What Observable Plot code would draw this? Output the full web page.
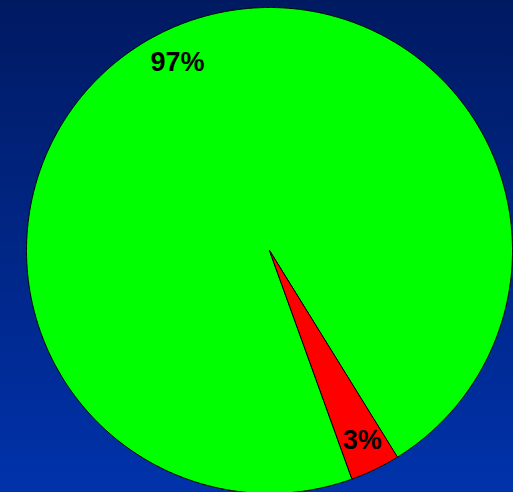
<!DOCTYPE html>
<html><head><meta charset="utf-8">
<script src="https://cdn.jsdelivr.net/npm/d3@7"></script>
<script src="https://cdn.jsdelivr.net/npm/@observablehq/plot@0.6"></script>
<style>
html,body{margin:0;padding:0;background:#001c66;}
svg{display:block;}
</style></head><body>
<div id="chart"></div>
<script>
const categories = ["Other", "Share"];
const values = [96.7, 3.3];
const labels = ["97%", "3%"];
const colors = ["#00ff00", "#ff0000"];

// pie geometry (angles clockwise from top, in degrees)
const startAngle = 160.1 * Math.PI / 180;
const pie = d3.pie().sort(null).value(d => d.value)
  .startAngle(startAngle).endAngle(startAngle + 2 * Math.PI);
const data = categories.map((c, i) => ({category: c, value: values[i], label: labels[i], color: colors[i]}));
const arcs = pie(data);

const pts = [];
for (const a of arcs) {
  pts.push({category: a.data.category, color: a.data.color, x: 0, y: 0});
  const n = Math.max(4, Math.ceil((a.endAngle - a.startAngle) / 0.005));
  for (let k = 0; k <= n; k++) {
    const t = a.startAngle + (a.endAngle - a.startAngle) * k / n;
    pts.push({category: a.data.category, color: a.data.color, x: Math.sin(t), y: Math.cos(t)});
  }
}
// label positions (fraction of radius, angle clockwise from top)
const labelPos = [
  {r: 0.861, deg: 333.9},
  {r: 0.870, deg: 154.0}
];
const labelData = arcs.map((a, i) => ({
  label: a.data.label,
  x: labelPos[i].r * Math.sin(labelPos[i].deg * Math.PI / 180),
  y: labelPos[i].r * Math.cos(labelPos[i].deg * Math.PI / 180)
}));

const cx = 269, cy = 250, R = 243;
const chart = Plot.plot({
  width: 513, height: 492,
  margin: 0,
  style: {background: "linear-gradient(to bottom, #001a62, #0032aa)", overflow: "hidden"},
  x: {domain: [-1, 1], range: [cx - R, cx + R], axis: null},
  y: {domain: [-1, 1], range: [cy + R, cy - R], axis: null},
  color: {type: "identity"},
  marks: [
    Plot.line(pts, {x: "x", y: "y", z: "category", fill: "color", stroke: "black", strokeWidth: 1, curve: "linear-closed"}),
    Plot.text(labelData, {x: "x", y: "y", text: "label", fontSize: 27, fontWeight: "bold", fill: "black", fontFamily: "Liberation Sans, Arial, sans-serif"})
  ]
});
document.getElementById("chart").appendChild(chart);
</script>
</body></html>
